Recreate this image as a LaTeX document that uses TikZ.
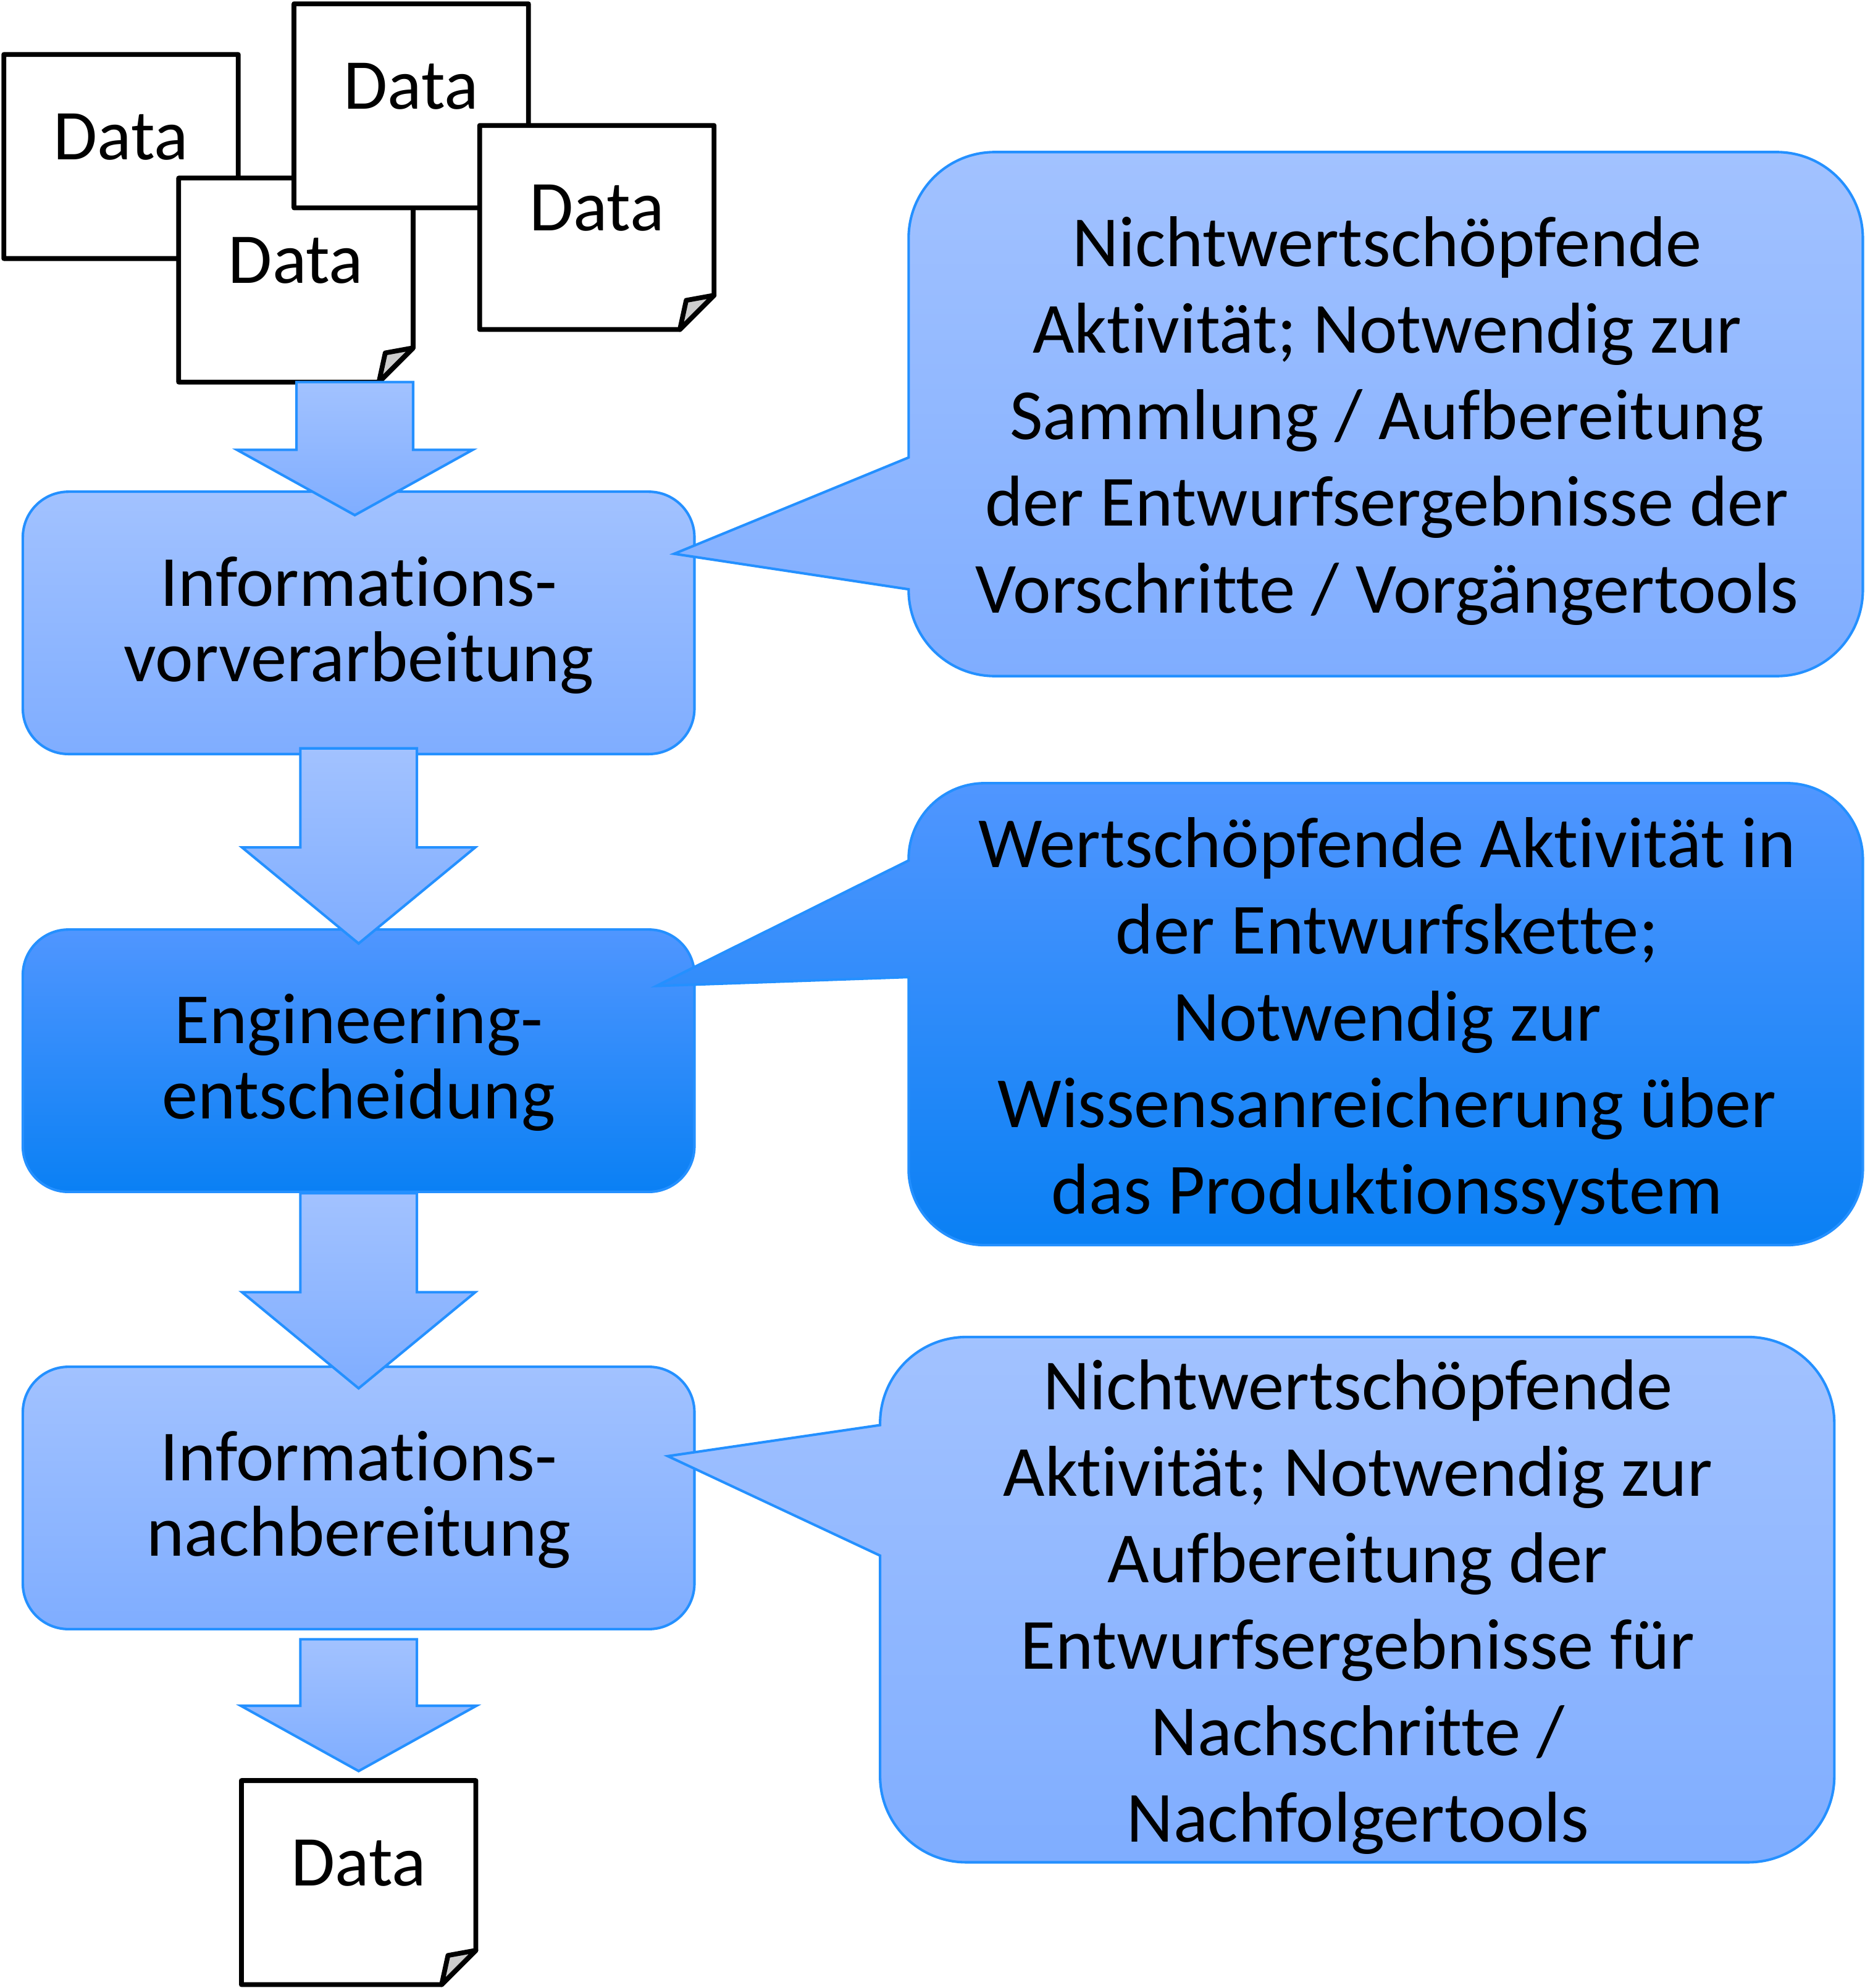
\documentclass[tikz,border=0pt]{standalone}
\usepackage{fontspec}
\setmainfont[Ligatures=NoCommon]{Carlito}
\usepackage{tikz}
\usetikzlibrary{shapes.arrows}
\definecolor{flowline}{HTML}{2490FF}
\definecolor{lighttop}{HTML}{A2C2FF}
\definecolor{lightend}{HTML}{7FADFF}
\definecolor{darktop}{HTML}{5096FF}
\definecolor{darkmid}{HTML}{2088FF}
\definecolor{darkend}{HTML}{0A80F4}
\definecolor{foldgray}{HTML}{CDCDCD}
\tikzset{
    lightfill/.style={draw=flowline, line width=1pt, top color=lighttop, bottom color=lightend},
    darkfill/.style={draw=flowline, line width=1pt, top color=darktop, middle color=darkmid, bottom color=darkend},
    datasheet/.style={draw=black, line width=1.9pt, line join=round, fill=white},
    datafold/.style={draw=black, line width=1.9pt, line join=round, fill=foldgray},
    datatext/.style={font=\fontsize{28.2}{34}\selectfont},
    flowbox/.style={rectangle, rounded corners=18pt, minimum width=265pt, minimum height=103.5pt, inner sep=0pt},
    flowtext/.style={align=center, inner sep=0pt, font=\fontsize{28.4}{29.75}\selectfont},
    flowarrow/.style={single arrow, anchor=tip, rotate=-90, lightfill, inner xsep=0pt, inner ysep=22.5pt, outer sep=0pt, single arrow head extend=23.5pt},
    bubbletext/.style={align=center, inner sep=0pt, font=\fontsize{28.4}{34.15}\selectfont},
}
\begin{document}
\begin{tikzpicture}[x=0.5pt, y=0.5pt]
    \useasboundingbox (0,0) rectangle (1471.7,-1568.7);
    \foreach \name/\x/\y in {dataa/3/43, datab/141/140.5, datac/232/3, datad/378.5/99, datae/190.5/1405} {
        \draw[datasheet] (\x,-\y) -- ++(185,0) -- ++(0,-134) -- ++(-27,-27) -- ++(-158,0) -- cycle;
        \draw[datafold] (\x+158,-\y-161) -- ++(5,23) -- ++(22,4) -- cycle;
        \node[datatext] (\name) at (\x+92.5,-\y-65) {Data};
    }
    \node[flowbox, lightfill] (infovor) at (283,-491.5) {};
    \node[flowbox, darkfill] (engineering) at (283,-837) {};
    \node[flowbox, lightfill] (infonach) at (283,-1182) {};
    \node[flowtext] (infovortext) at (283,-493.5) {Informations-\\vorverarbeitung};
    \node[flowtext] (engineeringtext) at (283,-838.5) {Engineering-\\entscheidung};
    \node[flowtext] (infonachtext) at (283,-1183.5) {Informations-\\nachbereitung};
    \foreach \xl/\yt/\yb/\xtip/\ytip/\ya/\yc/\r/\st in {
        717/120/533.5/532/437/361/465/34/lightfill,
        717/618/982.5/518/778/679/771/30/darkfill,
        694.5/1055/1469.5/527/1149/1124.5/1227.5/34/lightfill} {
        \draw[\st] (\xl,-\ya) -- (\xtip,-\ytip) -- (\xl,-\yc) [rounded corners=\r pt] -- (\xl,-\yb) -- (\xl+753,-\yb) -- (\xl+753,-\yt) -- (\xl,-\yt) [sharp corners] -- cycle;
    }
    \node[bubbletext] (bubbleone) at (1094.5,-332) {Nichtwertschöpfende\\Aktivität; Notwendig zur\\Sammlung / Aufbereitung\\der Entwurfsergebnisse der\\Vorschritte / Vorgängertools};
    \node[bubbletext] (bubbletwo) at (1094.5,-806) {Wertschöpfende Aktivität in\\der Entwurfskette;\\Notwendig zur\\Wissensanreicherung über\\das Produktionssystem};
    \node[bubbletext] (bubblethree) at (1071.5,-1268) {Nichtwertschöpfende\\Aktivität; Notwendig zur\\Aufbereitung der\\Entwurfsergebnisse für\\Nachschritte /\\Nachfolgertools};
    \node[flowarrow, minimum height=52.5pt, single arrow tip angle=122] (arrowone) at (280,-406.5) {};
    \node[flowarrow, minimum height=77pt, single arrow tip angle=101, single arrow head extend=23pt] (arrowtwo) at (283,-744.5) {};
    \node[flowarrow, minimum height=77pt, single arrow tip angle=101, single arrow head extend=23pt] (arrowthree) at (283,-1095.5) {};
    \node[flowarrow, minimum height=52pt, single arrow tip angle=122] (arrowfour) at (283,-1397.5) {};
\end{tikzpicture}
\end{document}
